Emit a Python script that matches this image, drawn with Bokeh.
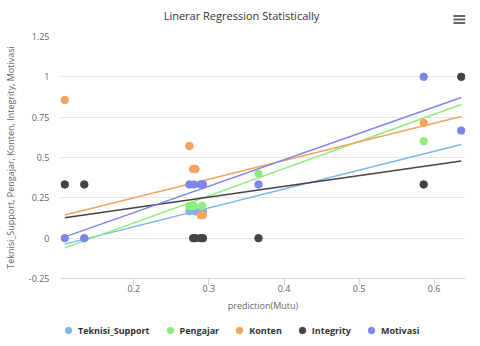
from bokeh.plotting import figure
from bokeh.models import Range1d, FixedTicker, Legend, LegendItem, BoxAnnotation, Label
from bokeh.layouts import column
from bokeh.embed import file_html
from bokeh.resources import INLINE

# ---- data ----
series_names = ["Teknisi_Support", "Pengajar", "Konten", "Integrity", "Motivasi"]
series_colors = ["#7cb5ec", "#90ed7d", "#f7a35c", "#434348", "#8085e9"]

teknisi_x = [0.274, 0.282, 0.292]
teknisi_y = [0.167, 0.167, 0.167]

pengajar_x = [0.274, 0.280, 0.291, 0.366, 0.586]
pengajar_y = [0.2, 0.2, 0.2, 0.4, 0.6]

konten_x = [0.108, 0.274, 0.279, 0.282, 0.289, 0.292, 0.586]
konten_y = [0.857, 0.571, 0.429, 0.429, 0.143, 0.143, 0.714]

integrity_x = [0.108, 0.134, 0.279, 0.282, 0.289, 0.292, 0.366, 0.586, 0.636]
integrity_y = [0.333, 0.333, 0.0, 0.0, 0.0, 0.0, 0.0, 0.333, 1.0]

motivasi_x = [0.108, 0.134, 0.274, 0.280, 0.289, 0.292, 0.366, 0.586, 0.636]
motivasi_y = [0.0, 0.0, 0.333, 0.333, 0.333, 0.333, 0.333, 1.0, 0.667]

# regression lines: value at start and end of x span
trend_x = [0.108, 0.636]
teknisi_trend = [-0.037, 0.581]
pengajar_trend = [-0.060, 0.829]
konten_trend = [0.143, 0.754]
integrity_trend = [0.126, 0.479]
motivasi_trend = [0.008, 0.872]

x_ticks = [0.2, 0.3, 0.4, 0.5, 0.6]
x_tick_labels = ["0.2", "0.3", "0.4", "0.5", "0.6"]
y_ticks = [-0.25, 0, 0.25, 0.5, 0.75, 1, 1.25]
y_tick_labels = ["-0.25", "0", "0.25", "0.5", "0.75", "1", "1.25"]

title_text = "Linerar Regression Statistically"
FONT = "Open Sans"
W = 468
LEFT = 52
RIGHT = 3

# ---------- header strip: title + export-menu icon ----------
head = figure(width=W, height=30, output_backend="svg", toolbar_location=None,
              x_axis_location=None, y_axis_location=None,
              min_border_left=LEFT, min_border_right=RIGHT, min_border_top=0, min_border_bottom=0)
head.outline_line_color = None
head.grid.visible = False
head.add_layout(Label(x=181, y=15, x_units="screen", y_units="screen", text=title_text,
                      text_align="center", text_baseline="middle",
                      text_font=FONT, text_font_size="11px", text_color="#333333"))
for yc in (14.5, 11, 7.5):
    head.add_layout(BoxAnnotation(left=393, right=405, top=yc + 1, bottom=yc - 1,
                                  left_units="screen", right_units="screen",
                                  top_units="screen", bottom_units="screen",
                                  fill_color="#666666", fill_alpha=1, line_color=None))

# ---------- main chart ----------
p = figure(width=W, height=288, output_backend="svg", toolbar_location=None,
           x_range=Range1d(0.1023, 0.6417), y_range=Range1d(-0.25, 1.25),
           min_border_left=LEFT, min_border_right=RIGHT, min_border_top=6, min_border_bottom=40)
p.outline_line_color = None
p.background_fill_color = "white"
p.border_fill_color = "white"

p.xgrid.visible = False
p.ygrid.grid_line_color = "#e6e6e6"
p.ygrid.ticker = FixedTicker(ticks=y_ticks)

p.yaxis.ticker = FixedTicker(ticks=y_ticks)
p.yaxis.major_label_overrides = dict(zip(y_ticks, y_tick_labels))
p.yaxis.axis_line_color = None
p.yaxis.major_tick_line_color = None
p.yaxis.minor_tick_line_color = None
p.yaxis.axis_label = ", ".join(series_names)

p.xaxis.ticker = FixedTicker(ticks=x_ticks)
p.xaxis.major_label_overrides = dict(zip(x_ticks, x_tick_labels))
p.xaxis.axis_line_color = "#ccd6eb"
p.xaxis.major_tick_line_color = "#ccd6eb"
p.xaxis.major_tick_out = 7
p.xaxis.major_tick_in = 0
p.xaxis.minor_tick_line_color = None
p.xaxis.axis_label = "prediction(Mutu)"

for ax in (p.xaxis, p.yaxis):
    ax.major_label_text_font = FONT
    ax.major_label_text_font_size = "9px"
    ax.major_label_text_color = "#666666"
    ax.axis_label_text_font = FONT
    ax.axis_label_text_font_size = "9px"
    ax.axis_label_text_font_style = "normal"
    ax.axis_label_text_color = "#666666"
p.yaxis.major_label_standoff = 5
p.yaxis.axis_label_standoff = 9
p.xaxis.major_label_standoff = -1
p.xaxis.axis_label_standoff = 4

xs = [teknisi_x, pengajar_x, konten_x, integrity_x, motivasi_x]
ys = [teknisi_y, pengajar_y, konten_y, integrity_y, motivasi_y]
trends = [teknisi_trend, pengajar_trend, konten_trend, integrity_trend, motivasi_trend]

for tr, c in zip(trends, series_colors):
    p.line(x=trend_x, y=tr, line_color=c, line_width=1.5)

for x, y, c in zip(xs, ys, series_colors):
    p.scatter(x=x, y=y, size=7.5, fill_color=c, line_color=c)

# ---------- legend strip (its ranges keep the series' own points out of view) ----------
leg = figure(width=W, height=24, output_backend="svg", toolbar_location=None,
             x_axis_location=None, y_axis_location=None,
             x_range=Range1d(10, 11), y_range=Range1d(10, 11),
             min_border_left=LEFT, min_border_right=RIGHT, min_border_top=0, min_border_bottom=0)
leg.outline_line_color = None
leg.grid.visible = False
items = []
for name, x, y, c in zip(series_names, xs, ys, series_colors):
    r = leg.scatter(x=x, y=y, size=7, fill_color=c, line_color=c)
    items.append(LegendItem(label=name, renderers=[r]))
legend = Legend(items=items, orientation="horizontal", location="left",
                glyph_width=16, glyph_height=16, label_height=16, label_standoff=2, spacing=12,
                padding=2, margin=0, border_line_color=None,
                background_fill_alpha=0,
                label_text_font=FONT, label_text_font_size="9px",
                label_text_font_style="bold", label_text_color="#333333")
leg.add_layout(legend, "center")

layout = column(head, p, leg, spacing=0)
open("out.html", "w").write(file_html(layout, INLINE))
